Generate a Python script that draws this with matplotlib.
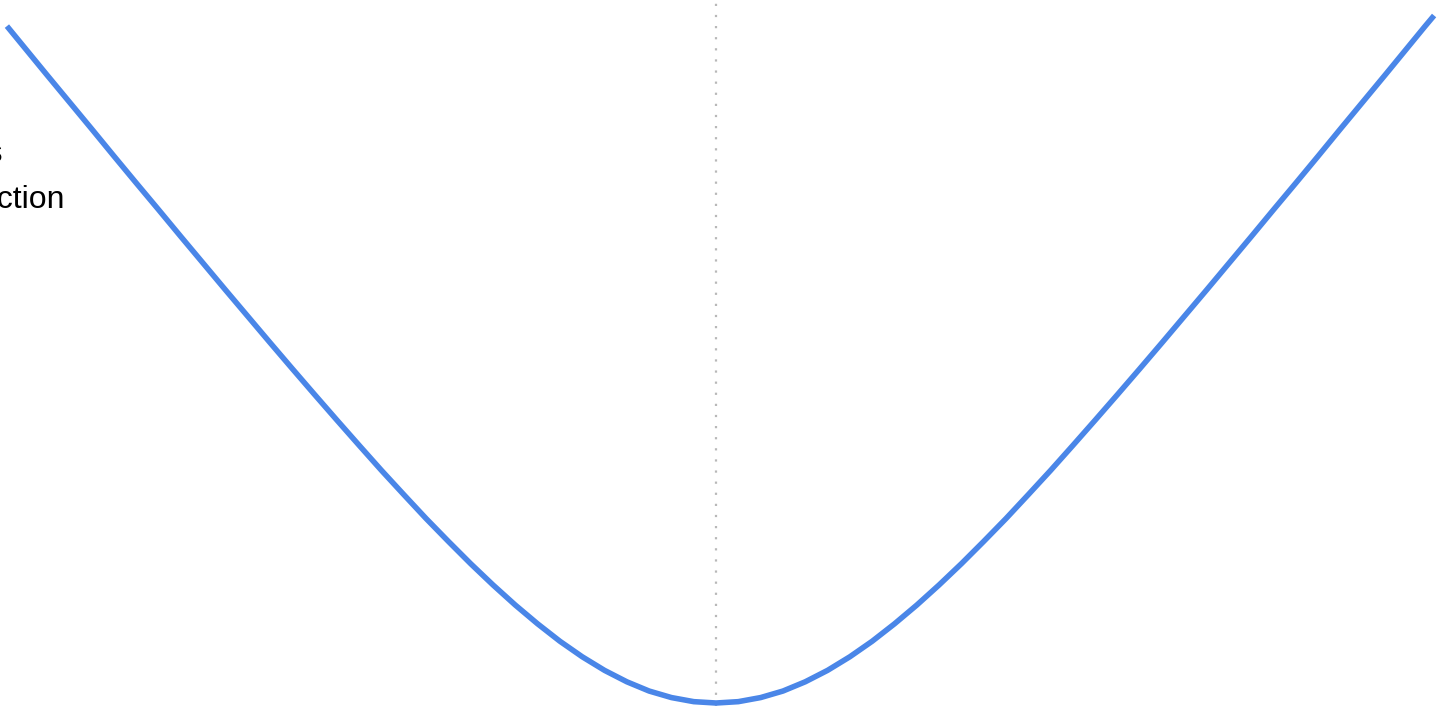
import numpy as np
import matplotlib
matplotlib.use('Agg')
import matplotlib.pyplot as plt

# values (error -> loss), one side; curve is mirrored around 0
err_pos = [0.0, 0.1, 0.2, 0.3, 0.4, 0.5, 0.6, 0.7, 0.8, 0.9, 1.0,
           1.1, 1.2, 1.3, 1.4, 1.5, 1.6, 1.7, 1.8, 1.9, 2.0,
           2.1, 2.2, 2.3, 2.4, 2.5, 2.6, 2.7, 2.8, 2.9, 3.0,
           3.1, 3.18, 3.22]
loss_pos = [0.0, 0.005, 0.020, 0.044, 0.078, 0.120, 0.170, 0.227, 0.291, 0.360, 0.434,
            0.512, 0.594, 0.678, 0.766, 0.855, 0.947, 1.040, 1.134, 1.229, 1.325,
            1.422, 1.519, 1.617, 1.715, 1.814, 1.912, 2.011, 2.111, 2.210, 2.309,
            2.409, 2.489, 2.528]
left_end = 3.18   # curve on the left stops a bit earlier than on the right
label_lines = ['Loss', 'function']

# build the full curve: mirrored left part + right part
left_x = [-v for v in err_pos[::-1] if v <= left_end and v > 0]
left_y = [l for v, l in zip(err_pos[::-1], loss_pos[::-1]) if v <= left_end and v > 0]
err = left_x + err_pos
loss = left_y + loss_pos

plt.rcParams['font.family'] = ['Liberation Sans', 'DejaVu Sans']

fig = plt.figure(figsize=(14.37, 7.06), dpi=100)
ax = fig.add_axes([0, 0, 1, 1])

ax.axvline(0, color='#b8b8b8', lw=1.6, linestyle=(0, (1, 4)), zorder=1)
ax.plot(err, loss, color='#4a86e8', lw=4, solid_capstyle='butt', zorder=2)

ax.set_xlim(-3.211, 3.233)
ax.set_ylim(-0.011, 2.585)
ax.axis('off')

# legend-ish label, mostly cut off at the left edge
fig.text(3 / 1437, 1 - 162 / 706, label_lines[0], ha='right', va='baseline', fontsize=23)
fig.text(65 / 1437, 1 - 208 / 706, label_lines[1], ha='right', va='baseline', fontsize=23)

fig.savefig('out.png', dpi=100, facecolor='white')
